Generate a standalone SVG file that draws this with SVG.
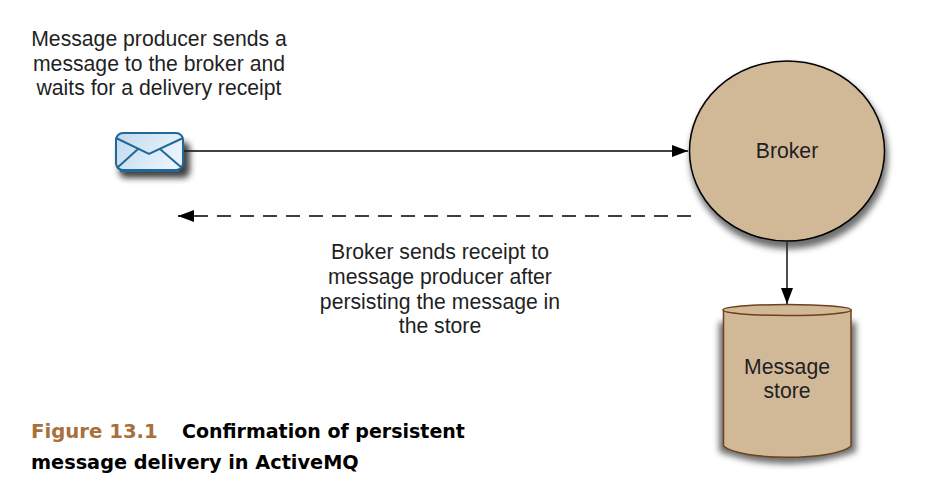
<svg xmlns="http://www.w3.org/2000/svg" width="949" height="490" viewBox="0 0 949 490">
<style>
text{font-family:"Liberation Sans",Arial,sans-serif;font-size:21.2px;fill:#1f1f24;text-anchor:middle}
.cap{font-family:"DejaVu Sans",sans-serif;font-weight:700;font-size:19.2px;text-anchor:start;fill:#000}
.tan{fill:#d1b998}
.c{fill:none;stroke:#000;stroke-width:1.4}
.env{fill:none;stroke:#1f6898;stroke-width:2}
</style>
<defs>
<marker id="ah" markerUnits="userSpaceOnUse" markerWidth="18" markerHeight="14" refX="17" refY="7" orient="auto"><path d="M1 1L17 7L1 13Z" fill="#000"/></marker>
<filter id="sh" x="-20%" y="-20%" width="140%" height="140%"><feGaussianBlur stdDeviation="3"/></filter>
<linearGradient id="eg" x1="0" y1="0" x2="1" y2="0.4"><stop offset="0" stop-color="#c0d9ee"/><stop offset="1" stop-color="#e9f3fb"/></linearGradient>
</defs>
<rect width="949" height="490" fill="#fff"/>
<g id="connectors">
<path class="c" d="M184 151H688" marker-end="url(#ah)"/>
<path class="c" d="M691 216H178" stroke-dasharray="14 9" marker-end="url(#ah)"/>
<path class="c" d="M787 242V304" marker-end="url(#ah)"/>
</g>
<g id="producer">
<rect x="119" y="142" width="71" height="36" rx="7" fill="#222" opacity=".85" filter="url(#sh)"/>
<rect x="116" y="133" width="67" height="37" rx="7" fill="url(#eg)" stroke="#1f6898" stroke-width="2"/>
<path d="M120 170.500H179" fill="none" stroke="#1f6898" stroke-width="3"/>
<path class="env" d="M116 138L149 154L183 138M138 149L117 168M160 149L182 168"/>
</g>
<g id="broker">
<ellipse cx="789" cy="157" rx="99" ry="92" fill="#333" opacity=".7" filter="url(#sh)"/>
<ellipse class="tan" cx="787" cy="151" rx="97.500" ry="90" stroke="#000" stroke-width="1.500"/>
<text x="787" y="158">Broker</text>
</g>
<g id="store">
<path d="M719 322H856V452Q787 476 719 452Z" fill="#333" opacity=".7" filter="url(#sh)"/>
<path class="tan" d="M723.500 310V446C740 461 835 461 851 446V310Z" stroke="#6e401c" stroke-width="1.500"/>
<ellipse class="tan" cx="787" cy="310" rx="64" ry="5.500" stroke="#6e401c" stroke-width="1.500"/>
<text x="787" y="373.500">Message</text>
<text x="787" y="398">store</text>
</g>
<g id="labels">
<text x="159" y="46">Message producer sends a</text>
<text x="159" y="71">message to the broker and</text>
<text x="159" y="95">waits for a delivery receipt</text>
<text x="440" y="259">Broker sends receipt to</text>
<text x="440" y="284">message producer after</text>
<text x="440" y="309">persisting the message in</text>
<text x="440" y="333">the store</text>
<text class="cap" x="31" y="438" style="fill:#a8703c;font-size:19.7px">Figure 13.1</text>
<text class="cap" x="182" y="438" style="font-size:19px">Confirmation of persistent</text>
<text class="cap" x="31" y="469" style="font-size:19.3px">message delivery in ActiveMQ</text>
</g>
</svg>
